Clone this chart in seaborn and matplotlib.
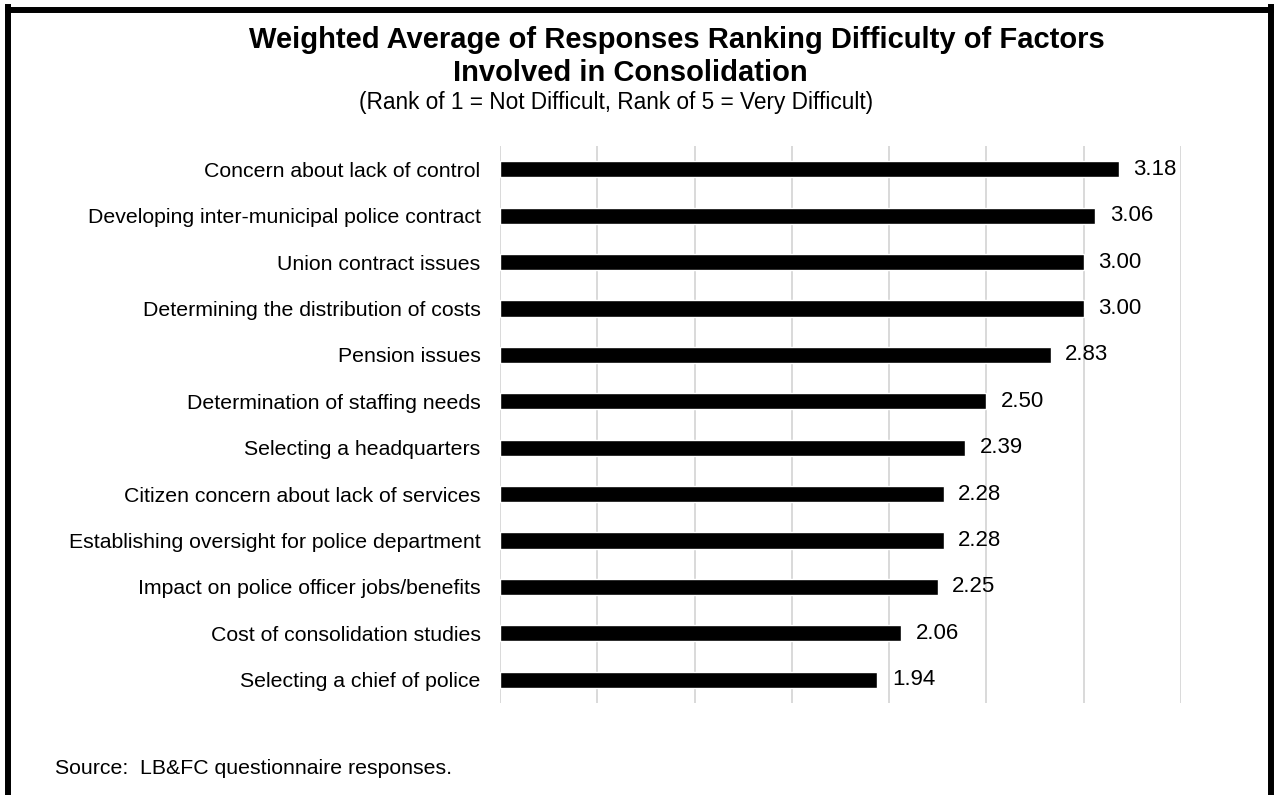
import matplotlib
matplotlib.use("Agg")
import matplotlib.pyplot as plt
from matplotlib.lines import Line2D
import seaborn as sns
import pandas as pd

factors = [
    "Concern about lack of control",
    "Developing inter-municipal police contract",
    "Union contract issues",
    "Determining the distribution of costs",
    "Pension issues",
    "Determination of staffing needs",
    "Selecting a headquarters",
    "Citizen concern about lack of services",
    "Establishing oversight for police department",
    "Impact on police officer jobs/benefits",
    "Cost of consolidation studies",
    "Selecting a chief of police",
]
weighted_avg = [3.18, 3.06, 3.00, 3.00, 2.83, 2.50, 2.39, 2.28, 2.28, 2.25, 2.06, 1.94]

title_line1 = "Weighted Average of Responses Ranking Difficulty of Factors"
title_line2 = "Involved in Consolidation"
subtitle = "(Rank of 1 = Not Difficult, Rank of 5 = Very Difficult)"
source_note = "Source:  LB&FC questionnaire responses."

df = pd.DataFrame({"factor": factors, "score": weighted_avg})

sns.set_theme(style="white")
plt.rcParams["font.family"] = ["Liberation Sans", "DejaVu Sans"]

W, H = 1275, 795
fig = plt.figure(figsize=(W / 100, H / 100), dpi=100)
fig.patch.set_facecolor("white")

ax = fig.add_axes([500 / W, 1 - 703 / H, 681 / W, 557 / H])
sns.barplot(data=df, x="score", y="factor", orient="h", color="black",
            saturation=1, width=0.35, ax=ax, zorder=3)

ax.set_xlim(0, 3.5)
ax.set_xticks([0, 0.5, 1.0, 1.5, 2.0, 2.5, 3.0, 3.5])
ax.set_xticklabels([])
ax.xaxis.grid(True, color="#d9d9d9", linewidth=1.4, zorder=0)
ax.yaxis.grid(False)
ax.set_axisbelow(True)
for s in ax.spines.values():
    s.set_visible(False)
ax.set_xlabel("")
ax.set_ylabel("")
ax.tick_params(axis="y", length=0, pad=14, labelsize=15.3, labelcolor="black")
ax.tick_params(axis="x", length=0)

for cont in ax.containers:
    ax.bar_label(cont, fmt="%.2f", padding=10.5, fontsize=16, color="black")

# Title block
fig.text(677 / W, 1 - 40 / H, title_line1, ha="center", va="center",
         fontsize=21, fontweight="bold", color="black")
fig.text(630 / W, 1 - 73 / H, title_line2, ha="center", va="center",
         fontsize=21, fontweight="bold", color="black")
fig.text(616 / W, 1 - 103 / H, subtitle, ha="center", va="center",
         fontsize=16.3, color="black")

fig.text(55 / W, 1 - 768 / H, source_note, ha="left", va="center",
         fontsize=15.3, color="black")

# Frame around the chart (open at the bottom)
lw = 4.3
fig.add_artist(Line2D([8 / W, 8 / W], [0, 1 - 7 / H], color="black", lw=lw,
                      transform=fig.transFigure, solid_capstyle="projecting"))
fig.add_artist(Line2D([8 / W, 1271 / W], [1 - 10 / H, 1 - 10 / H], color="black", lw=lw,
                      transform=fig.transFigure, solid_capstyle="projecting"))
fig.add_artist(Line2D([1271 / W, 1271 / W], [0, 1 - 7 / H], color="black", lw=lw,
                      transform=fig.transFigure, solid_capstyle="projecting"))

fig.savefig("out.png", dpi=100, facecolor="white")
